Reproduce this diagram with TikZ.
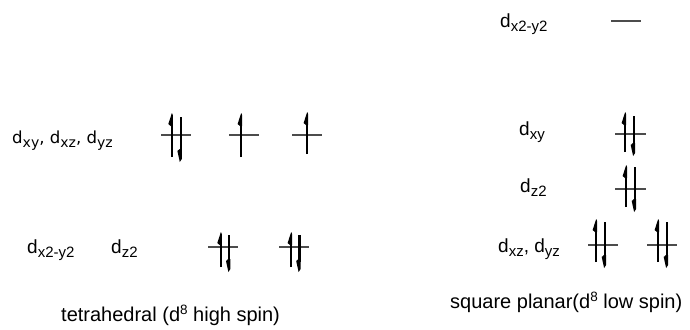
\documentclass[tikz,border=0pt]{standalone}
\usepackage{fontspec}
\setmainfont{Liberation Sans}
\newfontfamily\lblfont{DejaVu Sans}
\newcommand\mysub[1]{\raisebox{-4pt}{\fontsize{15}{15}\selectfont #1}}
\newcommand\mysubb[1]{\raisebox{-4pt}{\fontsize{14}{14}\selectfont #1}}
\newcommand\mysup[1]{\raisebox{7pt}{\fontsize{13.5}{13.5}\selectfont #1}}
% orbital level: x1, x2, y
\newcommand\orblevel[3]{\draw[levelline] (#1,#3) -- (#2,#3);}
% up electron: x, top, bottom
\newcommand\eup[3]{%
  \draw[shaft] (#1,#3) -- (#1,#2+10);
  \fill (#1+1.1,#2+13) -- (#1-1.1,#2+13) -- (#1-3.4,#2+11) -- (#1+0.2,#2) -- (#1+1.1,#2+2) -- cycle;}
% down electron: x, top, bottom
\newcommand\edown[3]{%
  \draw[shaft] (#1,#2) -- (#1,#3-10);
  \fill (#1+1.1,#3-13) -- (#1-1.1,#3-13) -- (#1-3.3,#3-11) -- (#1-0.9,#3) -- (#1+1.1,#3-3) -- cycle;}
\begin{document}
\begin{tikzpicture}[x=1pt,y=-1pt,
  levelline/.style={line width=1.1pt,black!70},
  shaft/.style={line width=2.1pt,black},
  lbl/.style={anchor=base west,inner sep=0pt,font=\fontsize{19}{22}\selectfont},
  captext/.style={anchor=base west,inner sep=0pt,font=\fontsize{20}{23}\selectfont}]
\useasboundingbox (0,0) rectangle (690,329);
% ---- tetrahedral labels
\node[lbl,font=\lblfont\fontsize{16.6}{20}\selectfont] (t1) at (12,143) {d\mysubb{xy}, d\mysubb{xz}, d\mysubb{yz}};
\node[lbl] (t2) at (27,253) {d\mysub{x2-y2}};
\node[lbl] (t3) at (111,253) {d\mysub{z2}};
\node[captext] (tcap) at (61,321) {tetrahedral (d\mysup{8} high spin)};
% ---- tetrahedral levels
\orblevel{161}{191}{135}
\eup{171.7}{113}{157}\edown{180.7}{117}{162}
\orblevel{229}{259}{135}
\eup{241}{113}{157}
\orblevel{292}{322}{135}
\eup{307}{112}{154}
\orblevel{208}{238}{247}
\eup{220.7}{232}{267}\edown{229.3}{235}{272}
\orblevel{279}{309}{247}
\eup{291}{232}{267}\edown{299.5}{235}{272}
% ---- square planar labels
\node[lbl] (s1) at (500,28) {d\mysub{x2-y2}};
\node[lbl] (s2) at (519,135) {d\mysub{xy}};
\node[lbl] (s3) at (520,192) {d\mysub{z2}};
\node[lbl] (s4) at (498,252) {d\mysub{xz}, d\mysub{yz}};
\node[captext] (scap) at (450,308) {square planar(d\mysup{8} low spin)};
% ---- square planar levels
\orblevel{611}{641}{21}
\orblevel{615}{646}{134}
\eup{625}{112}{152}\edown{634}{116}{156}
\orblevel{615}{646}{189}
\eup{626}{165}{207}\edown{635}{167}{212}
\orblevel{588}{618}{245}
\eup{596}{219}{262}\edown{605}{222}{268}
\orblevel{647}{677}{245}
\eup{658}{219}{262}\edown{667}{222}{268}
\end{tikzpicture}
\end{document}
